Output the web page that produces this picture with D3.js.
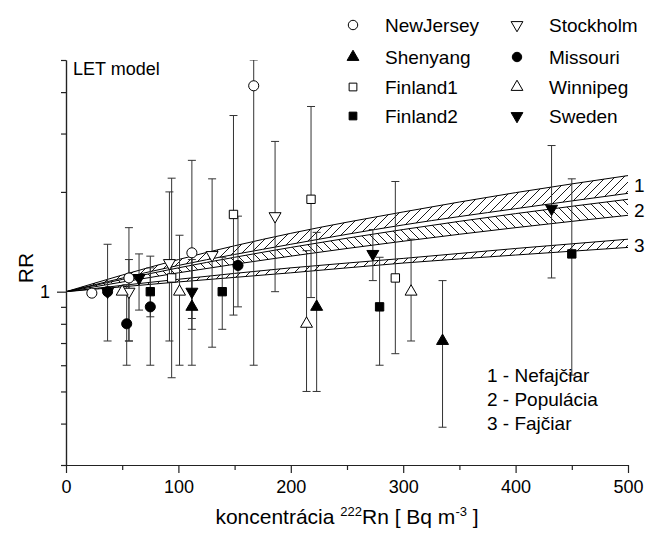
<!DOCTYPE html>
<html>
<head>
<meta charset="utf-8">
<script src="https://cdn.jsdelivr.net/npm/d3@7"></script>
<style>
  body { margin: 0; background: #fff; }
  text { font-family: Arial, "Liberation Sans", sans-serif; fill: #000; }
</style>
</head>
<body>
<div id="container"></div>
<script>
var width = 645;
var height = 534;

// each point: [Rn concentration, RR, lower limit, upper limit]
var newJersey = [[23, 0.99, 0.99, 0.99], [56, 1.10, 0.71, 1.56], [112, 1.31, 0.83, 2.49], [167, 4.18, 0.60, 5.0]];
var shenyang  = [[112, 0.90, 0.60, 1.30], [223, 0.90, 0.50, 1.51], [335, 0.71, 0.39, 1.08]];
var finland1  = [[94, 1.10, 0.55, 2.20], [149, 1.71, 0.85, 3.40], [218, 1.90, 0.96, 3.62], [293, 1.10, 0.65, 2.15]];
var finland2  = [[75, 1.0, 0.84, 1.18], [139, 1.0, 0.77, 1.27], [279, 0.90, 0.60, 1.27], [450, 1.30, 0.56, 2.19]];
var stockholm = [[56, 1.0, 0.71, 1.25], [92, 1.22, 0.71, 2.0], [130, 1.29, 0.68, 2.19], [186, 1.69, 1.0, 2.84]];
var missouri  = [[37, 1.0, 0.71, 1.39], [54, 0.80, 0.60, 1.05], [75, 0.90, 0.60, 1.28], [153, 1.20, 0.90, 1.69]];
var winnipeg  = [[50, 1.0, 1.0, 1.0], [101, 1.0, 0.60, 1.48], [214, 0.80, 0.50, 1.33], [307, 1.0, 0.71, 1.44]];
var sweden    = [[37, 1.0, 1.0, 1.0], [65, 1.10, 0.88, 1.30], [112, 1.0, 0.77, 1.25], [273, 1.30, 1.08, 1.54], [432, 1.78, 1.10, 2.76]];

// model bands (LET model) read at these concentrations
var bandX = [0, 100, 200, 300, 400, 500];
var band1Upper = [1, 1.25, 1.50, 1.74, 1.99, 2.24];
var band1Lower = [1, 1.20, 1.39, 1.59, 1.78, 1.98];
var band2Upper = [1, 1.18, 1.36, 1.54, 1.72, 1.90];
var band2Lower = [1, 1.14, 1.28, 1.42, 1.56, 1.70];
var band3Upper = [1, 1.09, 1.18, 1.26, 1.35, 1.44];
var band3Lower = [1, 1.07, 1.14, 1.22, 1.29, 1.36];

var xMajorTicks = [0, 100, 200, 300, 400, 500];
var xMinorTicks = [50, 150, 250, 350, 450];
var yMajorTicks = [1];
var yMinorTicks = [0.3, 0.4, 0.5, 0.6, 0.7, 0.8, 0.9, 2, 3, 4, 5];

var bandLabels = ['1 - Nefajčiar', '2 - Populácia', '3 - Fajčiar'];

var series = [
  {name: 'NewJersey', data: newJersey, shape: 'circle', filled: false},
  {name: 'Shenyang', data: shenyang, shape: 'up', filled: true},
  {name: 'Finland1', data: finland1, shape: 'square', filled: false},
  {name: 'Finland2', data: finland2, shape: 'square', filled: true},
  {name: 'Stockholm', data: stockholm, shape: 'down', filled: false},
  {name: 'Missouri', data: missouri, shape: 'circle', filled: true},
  {name: 'Winnipeg', data: winnipeg, shape: 'up', filled: false},
  {name: 'Sweden', data: sweden, shape: 'down', filled: true}
];

var x = d3.scaleLinear().domain([0, 500]).range([66, 628]);
var y = d3.scaleLog().domain([0.3, 5]).range([465, 60]);

var svg = d3.select('#container').append('svg')
    .attr('width', width).attr('height', height);

var defs = svg.append('defs');
function hatch(id, d){
    defs.append('pattern')
        .attr('id', id)
        .attr('patternUnits', 'userSpaceOnUse')
        .attr('width', 9).attr('height', 9)
      .append('path')
        .attr('d', d)
        .attr('stroke', '#000')
        .attr('stroke-width', 0.9)
        .attr('fill', 'none');
}
hatch('fwd', 'M-2,2L2,-2M0,9L9,0M7,11L11,7');
hatch('back', 'M-2,7L2,11M0,0L9,9M7,-2L11,2');

defs.append('clipPath').attr('id', 'plotClip')
  .append('rect')
    .attr('x', x(0)).attr('y', y(5))
    .attr('width', x(500) - x(0)).attr('height', y(0.3) - y(5));

// bands
var bands = [
  {upper: band1Upper, lower: band1Lower, fill: 'url(#fwd)'},
  {upper: band2Upper, lower: band2Lower, fill: 'url(#back)'},
  {upper: band3Upper, lower: band3Lower, fill: 'url(#fwd)'}
];
var area = d3.area()
    .x(function(d){ return x(d[0]); })
    .y0(function(d){ return y(d[1]); })
    .y1(function(d){ return y(d[2]); })
    .curve(d3.curveMonotoneX);
var line = d3.line()
    .x(function(d){ return x(d[0]); })
    .y(function(d){ return y(d[1]); })
    .curve(d3.curveMonotoneX);
bands.forEach(function(b){
    var pts = bandX.map(function(v, i){ return [v, b.lower[i], b.upper[i]]; });
    svg.append('path').attr('d', area(pts)).attr('fill', b.fill).attr('stroke', 'none');
    svg.append('path').attr('d', line(pts.map(function(p){ return [p[0], p[2]]; })))
        .attr('fill', 'none').attr('stroke', '#000').attr('stroke-width', 1);
    svg.append('path').attr('d', line(pts.map(function(p){ return [p[0], p[1]]; })))
        .attr('fill', 'none').attr('stroke', '#000').attr('stroke-width', 1);
});

// axes
var xAxis = svg.append('g').attr('transform', 'translate(0,' + y(0.3) + ')')
    .call(d3.axisBottom(x).tickValues(xMajorTicks).tickSize(8).tickSizeOuter(0).tickPadding(7));
svg.append('g').attr('transform', 'translate(0,' + y(0.3) + ')')
    .call(d3.axisBottom(x).tickValues(xMinorTicks).tickSize(5).tickSizeOuter(0).tickFormat(''));
var yAxis = svg.append('g').attr('transform', 'translate(' + x(0) + ',0)')
    .call(d3.axisLeft(y).tickValues(yMajorTicks).tickSize(9).tickSizeOuter(0).tickPadding(7).tickFormat(d3.format('d')));
svg.append('g').attr('transform', 'translate(' + x(0) + ',0)')
    .call(d3.axisLeft(y).tickValues(yMinorTicks).tickSize(5).tickSizeOuter(0).tickFormat(''));
svg.selectAll('.domain, .tick line').attr('stroke', '#222').attr('stroke-width', 1.2);
svg.selectAll('.tick text').style('font-size', '18px').style('font-family', 'Arial, "Liberation Sans", sans-serif');

function symbolPath(shape, size){
    if(shape === 'circle') return d3.symbol().type(d3.symbolCircle).size(size || 80)();
    if(shape === 'square') return d3.symbol().type(d3.symbolSquare).size(size || 70)();
    return d3.symbol().type(d3.symbolTriangle).size(size || 62)();
}

// error bars and markers
var plot = svg.append('g').attr('clip-path', 'url(#plotClip)');
series.forEach(function(s){
    s.data.forEach(function(d){
        if(d[2] === d[3]) return;
        var cx = x(d[0]);
        plot.append('line')
            .attr('x1', cx).attr('x2', cx)
            .attr('y1', y(d[2])).attr('y2', y(d[3]))
            .attr('stroke', '#333').attr('stroke-width', 1);
        [d[2], d[3]].forEach(function(v){
            plot.append('line')
                .attr('x1', cx - 4).attr('x2', cx + 4)
                .attr('y1', y(v)).attr('y2', y(v))
                .attr('stroke', '#333').attr('stroke-width', 1);
        });
    });
});
series.forEach(function(s){
    s.data.forEach(function(d){
        var rot = s.shape === 'down' ? ' rotate(180)' : '';
        svg.append('path')
            .attr('d', symbolPath(s.shape))
            .attr('transform', 'translate(' + x(d[0]) + ',' + y(d[1]) + ')' + rot)
            .attr('fill', s.filled ? '#000' : '#fff')
            .attr('stroke', '#000').attr('stroke-width', 1);
    });
});

// legend of sites
var legendRows = [25, 57, 87, 116];
series.forEach(function(s, i){
    var col = Math.floor(i / 4), row = i % 4;
    var sx = col === 0 ? 353 : 517;
    var rot = s.shape === 'down' ? ' rotate(180)' : '';
    svg.append('path')
        .attr('d', symbolPath(s.shape, s.shape === 'circle' ? 70 : 60))
        .attr('transform', 'translate(' + sx + ',' + legendRows[row] + ')' + rot)
        .attr('fill', s.filled ? '#000' : '#fff')
        .attr('stroke', '#000').attr('stroke-width', 1);
    svg.append('text')
        .attr('x', sx + 32).attr('y', legendRows[row])
        .attr('dy', '0.35em')
        .style('font-size', '19px')
        .text(s.name);
});

// band labels
var bandEnds = [band1Upper, band2Upper, band3Upper];
var bandLabelY = [185, 210, 245];
bandLabelY.forEach(function(v, i){
    svg.append('text').attr('x', 634).attr('y', v).attr('dy', '0.35em')
        .style('font-size', '19px').text(String(i + 1));
});
bandLabels.forEach(function(t, i){
    svg.append('text').attr('x', 487).attr('y', 375 + i * 24).attr('dy', '0.35em')
        .style('font-size', '19px').text(t);
});

svg.append('text').attr('x', 73).attr('y', 75)
    .style('font-size', '18px').text('LET model');

svg.append('text')
    .attr('transform', 'translate(33,268) rotate(-90)')
    .attr('text-anchor', 'middle')
    .style('font-size', '21px').text('RR');

var xl = svg.append('text')
    .attr('x', (x(0) + x(500)) / 2).attr('y', 524)
    .attr('text-anchor', 'middle')
    .style('font-size', '21px');
xl.append('tspan').text('koncentrácia ');
xl.append('tspan').attr('dy', -8).style('font-size', '13px').text('222');
xl.append('tspan').attr('dy', 8).text('Rn [ Bq m');
xl.append('tspan').attr('dy', -8).style('font-size', '13px').text('-3');
xl.append('tspan').attr('dy', 8).text(' ]');
</script>
</body>
</html>
